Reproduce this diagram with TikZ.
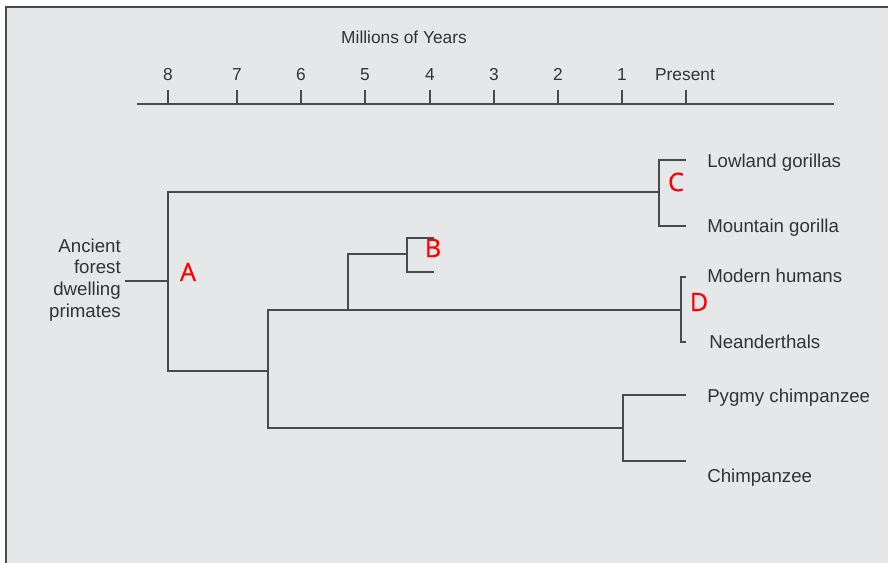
\documentclass[tikz,border=0pt]{standalone}
\usepackage{fontspec}
\setmainfont{Liberation Sans}
\newfontfamily\cladefont[FakeBold=0.5]{Open Sans}
\definecolor{panel}{HTML}{E6E7E9}
\definecolor{ink}{HTML}{4A4A4A}
\definecolor{textgray}{HTML}{333333}

\begin{document}
\begin{tikzpicture}[x=0.75pt,y=-0.75pt,
  branch/.style={draw=ink,line width=1.2pt},
  taxon/.style={anchor=base west,inner sep=0pt,text=textgray,font=\fontsize{14}{16}\selectfont},
  yearlabel/.style={anchor=base,inner sep=0pt,text=textgray,font=\fontsize{13}{15}\selectfont},
  cladelabel/.style={inner sep=0pt,text=red,font=\cladefont\fontsize{19}{22}\selectfont}]

\useasboundingbox (0,0) rectangle (888,563);
\fill[white] (0,0) rectangle (888,563);
\fill[panel] (6,7) rectangle (888,563);
\draw[ink,line width=1.5pt] (6,563) -- (6,7) -- (888,7);

\node[yearlabel] (title) at (404,44) {Millions of Years};
\coordinate (axisL) at (137,104);
\coordinate (axisR) at (834,104);
\draw[branch] (axisL) -- (axisR);
\foreach \x/\yr in {168/8,237/7,301/6,365/5,430/4,494/3,558/2,622/1}{
  \draw[branch] (\x,90) -- (\x,104);
  \node[yearlabel] (yr\yr) at (\x,81) {\yr};
}
\draw[branch] (686,90) -- (686,104);
\node[yearlabel] (yr0) at (685,81) {Present};

\coordinate (root) at (125,281);
\coordinate (A) at (168,281);
\coordinate (C) at (659,192);
\coordinate (E) at (268,371);
\coordinate (D) at (681,310);
\coordinate (F) at (348,310);
\coordinate (B) at (407,254);
\coordinate (G) at (623,428);

\coordinate (lowlandEnd) at (686,160);
\coordinate (mountainEnd) at (686,226);
\coordinate (humansEnd) at (686,277);
\coordinate (neanderEnd) at (686,342);
\coordinate (bTop) at (434,238);
\coordinate (bBot) at (434,272);
\coordinate (pygmyEnd) at (686,395);
\coordinate (chimpEnd) at (686,461);

\draw[branch] (root) -- (A);
\draw[branch] (C) -| (A) |- (E);
\draw[branch] (lowlandEnd) -| (C) |- (mountainEnd);
\draw[branch] (D) -| (E) |- (G);
\draw[branch] (humansEnd) -| (D) |- (neanderEnd);
\draw[branch] (B) -| (F);
\draw[branch] (bTop) -| (B) |- (bBot);
\draw[branch] (pygmyEnd) -| (G) |- (chimpEnd);

\node[anchor=east,inner sep=0pt,align=right,text=textgray,font=\fontsize{14}{16.3}\selectfont] (ancestor) at (121,280) {Ancient\\forest\\dwelling\\primates};

\node[taxon] (lowland) at (707,167) {Lowland gorillas};
\node[taxon] (mountain) at (707,232) {Mountain gorilla};
\node[taxon] (humans) at (707,282) {Modern humans};
\node[taxon] (neander) at (709,348) {Neanderthals};
\node[taxon] (pygmy) at (707,402) {Pygmy chimpanzee};
\node[taxon] (chimp) at (707,482) {Chimpanzee};

\node[cladelabel] (labA) at (188,272) {A};
\node[cladelabel] (labB) at (433,248) {B};
\node[cladelabel] (labC) at (676,182) {C};
\node[cladelabel] (labD) at (699,302) {D};

\end{tikzpicture}
\end{document}
